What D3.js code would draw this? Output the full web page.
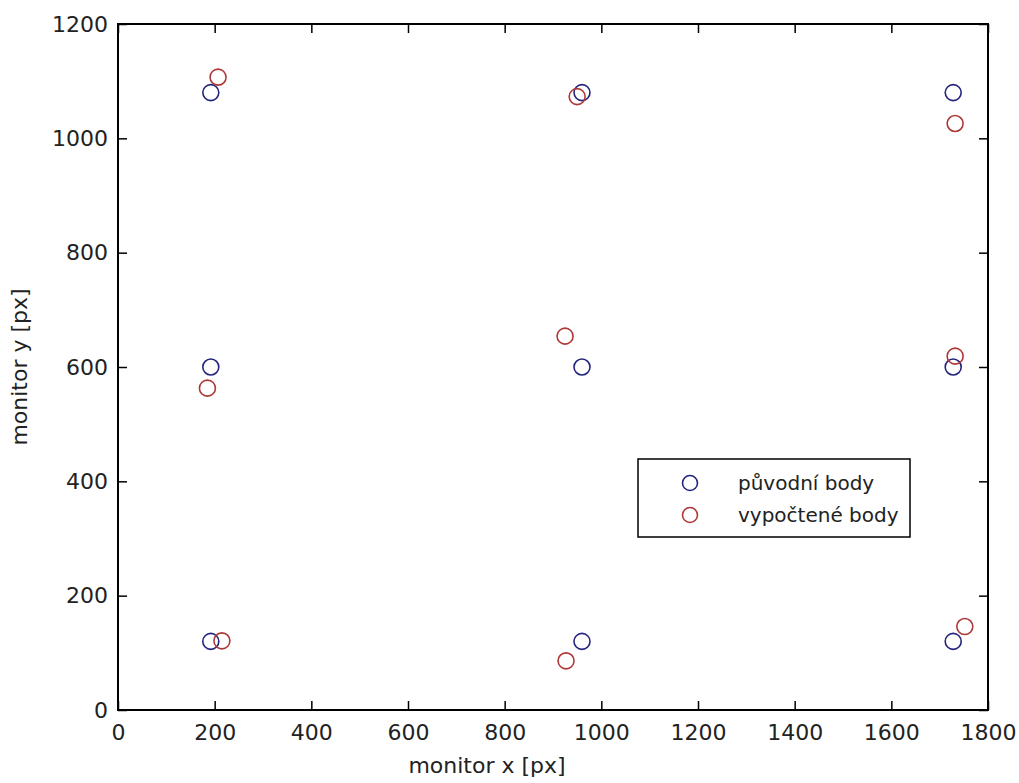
<!DOCTYPE html>
<html><head><meta charset="utf-8">
<script src="https://cdn.jsdelivr.net/npm/d3@7"></script>
<style>body{margin:0;background:#fff}</style>
</head><body>
<script>
const seriesNames = ["původní body", "vypočtené body"];
const origX = [192, 192, 192, 960, 960, 960, 1728, 1728, 1728];
const origY = [1080, 600, 120, 1080, 600, 120, 1080, 600, 120];
const compX = [207, 185, 215, 950, 925, 927, 1732, 1732, 1752];
const compY = [1107, 563, 121, 1073, 654, 86, 1026, 619, 146];
const xTicks = [0, 200, 400, 600, 800, 1000, 1200, 1400, 1600, 1800];
const yTicks = [0, 200, 400, 600, 800, 1000, 1200];
const colors = ["#24247e", "#ad3838"];

(function(){
const W = 1019, H = 783;
const mL = 118, mR = 988, mT = 24, mB = 710;
const svg = d3.select("body").append("svg").attr("width", W).attr("height", H);
const x = d3.scaleLinear().domain([0, 1800]).range([mL, mR]);
const y = d3.scaleLinear().domain([0, 1200]).range([mB, mT]);
const font = "DejaVu Sans";
const txt = "#222";

svg.append("rect").attr("x", mL).attr("y", mT).attr("width", mR-mL).attr("height", mB-mT)
  .attr("fill", "#fff").attr("stroke", "none");

const tl = 9;
function styleAxis(g){
  g.select(".domain").remove();
  g.selectAll("line").attr("stroke", "#000").attr("stroke-width", 1.5);
  g.selectAll("text").attr("font-family", font).attr("font-size", 22).attr("fill", txt);
}
svg.append("g").attr("transform", `translate(0,${mB})`)
  .call(d3.axisBottom(x).tickValues(xTicks).tickSize(-tl).tickPadding(14).tickFormat(d3.format("d")))
  .call(styleAxis);
svg.append("g").attr("transform", `translate(0,${mT})`)
  .call(d3.axisTop(x).tickValues(xTicks).tickSize(-tl).tickFormat(""))
  .call(styleAxis);
svg.append("g").attr("transform", `translate(${mL},0)`)
  .call(d3.axisLeft(y).tickValues(yTicks).tickSize(-tl).tickPadding(10).tickFormat(d3.format("d")))
  .call(styleAxis);
svg.append("g").attr("transform", `translate(${mR},0)`)
  .call(d3.axisRight(y).tickValues(yTicks).tickSize(-tl).tickFormat(""))
  .call(styleAxis);

svg.append("rect").attr("x", mL).attr("y", mT).attr("width", mR-mL).attr("height", mB-mT)
  .attr("fill", "none").attr("stroke", "#000").attr("stroke-width", 2);

const series = [
  {xs: origX, ys: origY, c: colors[0]},
  {xs: compX, ys: compY, c: colors[1]}
];
series.forEach(s => {
  svg.append("g").selectAll("circle").data(s.xs.map((v,i)=>[v, s.ys[i]])).join("circle")
    .attr("cx", d => x(d[0])).attr("cy", d => y(d[1])).attr("r", 8)
    .attr("fill", "none").attr("stroke", s.c).attr("stroke-width", 1.6);
});

svg.append("text").attr("x", 487).attr("y", 773).attr("text-anchor", "middle")
  .attr("font-family", font).attr("font-size", 22).attr("fill", txt).text("monitor x [px]");
svg.append("text").attr("transform", `translate(27,${(mT+mB)/2}) rotate(-90)`).attr("text-anchor", "middle")
  .attr("font-family", font).attr("font-size", 22).attr("fill", txt).text("monitor y [px]");

const lg = svg.append("g");
lg.append("rect").attr("x", 638).attr("y", 459).attr("width", 272).attr("height", 78)
  .attr("fill", "#fff").attr("stroke", "#000").attr("stroke-width", 1.5);
seriesNames.forEach((n, i) => {
  const yy = 483 + i*32;
  lg.append("circle").attr("cx", 690).attr("cy", yy).attr("r", 7.5)
    .attr("fill", "none").attr("stroke", colors[i]).attr("stroke-width", 1.6);
  lg.append("text").attr("x", 738).attr("y", yy + 7).attr("font-family", font).attr("font-size", 20)
    .attr("fill", txt).text(n);
});
})();
</script>
</body></html>
